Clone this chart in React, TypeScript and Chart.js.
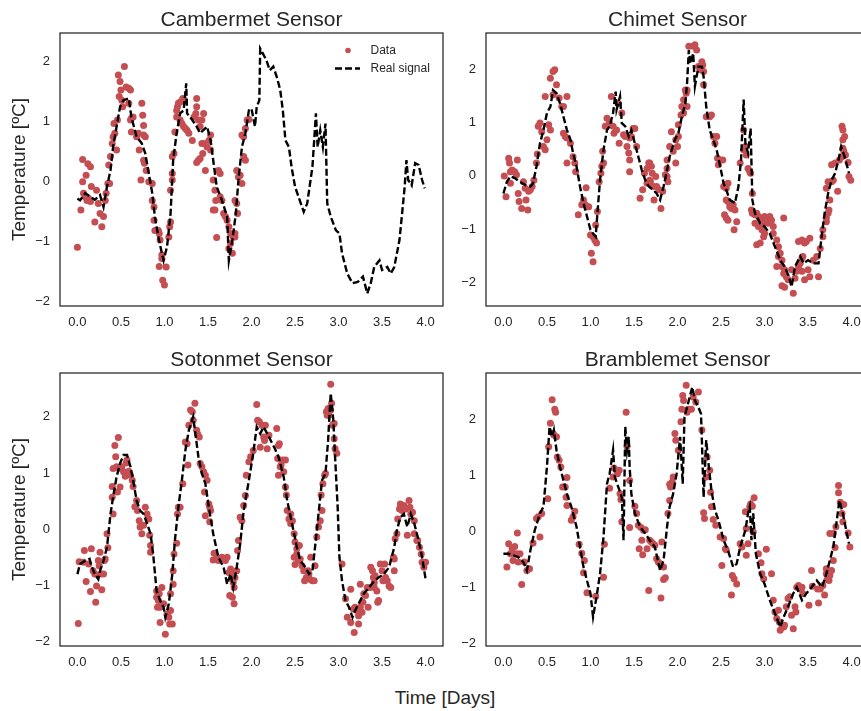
import React, { useEffect, useRef } from "react";
import { Chart, registerables } from "chart.js";

Chart.register(...registerables);

const FONT = '"Liberation Sans", Arial, Helvetica, sans-serif';
const TEXT = "#262626";
const RED = "#C44E52";

const xTicks = [0, 0.5, 1, 1.5, 2, 2.5, 3, 3.5, 4];
const yTicks = [-2, -1, 0, 1, 2];
const xMin = -0.2;
const xMax = 4.2;

type Pts = [number, number][];

// ---------- Cambermet ----------
const cambermetData: Pts = [
  [0.0, -1.09], [0.04, -0.47], [0.06, 0.37], [0.06, 0.0], [0.07, -0.19], [0.09, -0.25], [0.11, -0.31], [0.13, -0.28],
  [0.15, -0.33], [0.1, 0.11], [0.12, 0.3], [0.15, 0.25], [0.16, -0.08], [0.2, -0.67], [0.22, -0.14], [0.24, -0.36],
  [0.26, -0.53], [0.28, -0.75], [0.3, -0.58], [0.32, -0.31], [0.33, -0.19], [0.35, -0.03], [0.37, -0.03], [0.36, 0.28],
  [0.38, 0.42], [0.4, 0.64], [0.41, 0.75], [0.42, 0.97], [0.43, 0.81], [0.45, 0.53], [0.46, 1.03], [0.47, 1.78],
  [0.48, 1.42], [0.49, 1.67], [0.5, 1.53], [0.51, 1.36], [0.52, 1.25], [0.54, 1.92], [0.56, 1.58], [0.59, 1.56],
  [0.61, 1.53], [0.59, 1.31], [0.61, 1.03], [0.62, 1.06], [0.64, 1.08], [0.62, 0.83], [0.68, 0.75], [0.7, 0.81],
  [0.74, 1.31], [0.75, 1.11], [0.76, 0.94], [0.76, 0.78], [0.78, 0.75], [0.71, 0.53], [0.76, 0.36], [0.77, 0.31],
  [0.79, 0.19], [0.73, 0.03], [0.82, 0.0], [0.86, -0.03], [0.86, -0.31], [0.88, -0.42], [0.88, -0.64], [0.89, -0.81],
  [0.93, -0.81], [0.94, -0.86], [0.95, -0.97], [0.94, -1.41], [0.97, -1.22], [0.97, -1.28], [0.98, -1.64], [1.0, -1.72],
  [1.02, -1.42], [1.05, -0.92], [1.06, -0.75], [1.07, -0.67], [1.07, -0.14], [1.09, 0.03], [1.09, 0.14], [1.09, 0.42],
  [1.11, 0.47], [1.12, 0.83], [1.14, 1.08], [1.14, 1.19], [1.15, 1.25], [1.16, 1.31], [1.18, 1.33], [1.21, 1.39],
  [1.23, 1.36], [1.18, 1.03], [1.2, 0.97], [1.22, 0.92], [1.24, 0.89], [1.26, 0.86], [1.28, 0.81], [1.32, 0.69],
  [1.34, 1.08], [1.36, 1.14], [1.37, 1.25], [1.37, 1.39], [1.39, 1.03], [1.41, 0.92], [1.43, 1.03], [1.45, 1.14],
  [1.37, 0.32], [1.39, 0.36], [1.41, 0.39], [1.44, 0.47], [1.43, 0.64], [1.45, 0.64], [1.47, 0.19], [1.49, 0.58],
  [1.51, 0.69], [1.53, 0.53], [1.53, 0.78], [1.56, 0.03], [1.58, -0.14], [1.59, -0.31], [1.62, 0.19], [1.64, 0.14],
  [1.56, -0.47], [1.58, -0.47], [1.6, -0.93], [1.64, -0.25], [1.66, -0.31], [1.68, -0.53], [1.7, -0.58], [1.72, -0.64],
  [1.74, -0.75], [1.76, -0.86], [1.79, -0.92], [1.81, -0.86], [1.74, -1.11], [1.76, -1.03], [1.78, -1.19], [1.81, -0.92],
  [1.81, -0.31], [1.83, -0.36], [1.84, -0.53], [1.83, 0.19], [1.85, 0.08], [1.87, 0.11], [1.89, -0.03], [1.91, 0.42],
  [1.93, 0.36], [1.89, 0.78], [1.91, 0.75], [1.93, 0.89], [1.95, 1.03], [1.97, 1.04],
];
const cambermetSignal: Pts = [
  [0, -0.28], [0.03, -0.31], [0.09, -0.19], [0.15, -0.25], [0.2, -0.3], [0.26, -0.22], [0.3, -0.42], [0.34, -0.08],
  [0.38, 0.19], [0.41, 0.58], [0.45, 0.92], [0.49, 1.25], [0.53, 1.36], [0.59, 1.39], [0.62, 1.08], [0.68, 0.75],
  [0.74, 0.64], [0.78, 0.47], [0.82, 0.14], [0.86, -0.19], [0.89, -0.58], [0.93, -0.92], [0.97, -1.19], [0.99, -1.31],
  [1.03, -1.08], [1.07, -0.53], [1.1, 0.36], [1.14, 0.81], [1.18, 1.14], [1.22, 1.19], [1.25, 1.64], [1.26, 1.14],
  [1.32, 1.03], [1.37, 0.92], [1.41, 0.81], [1.49, 0.92], [1.53, 0.69], [1.56, 0.36], [1.6, -0.08], [1.66, -0.31],
  [1.72, -0.58], [1.74, -1.31], [1.78, -0.97], [1.82, -0.53], [1.85, 0.03], [1.89, 0.58], [1.93, 0.81], [1.97, 1.19],
  [2.0, 1.22], [2.04, 0.92], [2.06, 1.25], [2.09, 1.36], [2.1, 2.22], [2.13, 2.14], [2.17, 2.03], [2.21, 1.86],
  [2.25, 1.92], [2.29, 1.75], [2.33, 1.53], [2.36, 1.19], [2.39, 0.69], [2.43, 0.58], [2.46, 0.25], [2.5, -0.08],
  [2.54, -0.25], [2.6, -0.5], [2.64, -0.36], [2.7, 0.25], [2.72, 0.69], [2.74, 1.14], [2.76, 0.58], [2.79, 0.86],
  [2.82, 0.58], [2.85, 0.97], [2.87, -0.36], [2.91, -0.58], [2.97, -0.81], [3.01, -0.86], [3.04, -1.19], [3.1, -1.53],
  [3.16, -1.69], [3.22, -1.67], [3.28, -1.58], [3.33, -1.86], [3.37, -1.69], [3.41, -1.42], [3.47, -1.31], [3.5, -1.47],
  [3.56, -1.42], [3.6, -1.53], [3.64, -1.42], [3.7, -0.97], [3.73, -0.53], [3.76, -0.08], [3.78, 0.36], [3.8, 0.03],
  [3.84, -0.06], [3.88, 0.31], [3.92, 0.28], [3.96, 0.03], [3.99, -0.11],
];

// ---------- Chimet ----------
const chimetData: Pts = [
  [0.01, 0.0], [0.03, -0.39], [0.06, 0.33], [0.07, 0.24], [0.08, 0.08], [0.1, 0.11], [0.13, 0.08], [0.15, 0.02],
  [0.08, -0.14], [0.16, 0.3], [0.17, -0.33], [0.18, -0.48], [0.21, -0.61], [0.23, -0.11], [0.25, -0.23], [0.26, -0.45],
  [0.28, -0.64], [0.29, -0.29], [0.31, -0.26], [0.33, -0.2], [0.35, -0.08], [0.38, 0.24], [0.39, 0.41], [0.4, 0.93],
  [0.42, 0.99], [0.44, 0.83], [0.46, 0.55], [0.48, 0.49], [0.5, 0.68], [0.52, 0.96], [0.54, 0.86], [0.48, 1.49],
  [0.54, 1.83], [0.57, 1.96], [0.59, 1.99], [0.57, 1.52], [0.61, 1.71], [0.64, 1.46], [0.67, 1.3], [0.69, 1.3],
  [0.73, 1.49], [0.69, 0.8], [0.71, 0.74], [0.73, 0.71], [0.77, 0.61], [0.8, 0.36], [0.82, 0.24], [0.83, 0.08],
  [0.73, 0.24], [0.86, -0.73], [0.9, -0.54], [0.92, -0.45], [0.94, -0.54], [0.95, -0.22], [0.96, -0.58], [0.98, -0.58],
  [1.0, -1.11], [1.01, -1.45], [1.03, -1.61], [1.03, -1.14], [1.05, -1.2], [1.07, -1.26], [1.06, -0.92], [1.08, -0.67],
  [1.1, -0.11], [1.12, 0.05], [1.13, 0.18], [1.15, 0.24], [1.14, 0.46], [1.17, 0.93], [1.19, 1.08], [1.21, 0.96],
  [1.22, 0.99], [1.24, 1.49], [1.26, 0.93], [1.27, 0.8], [1.3, 0.86], [1.32, 1.36], [1.33, 0.61], [1.36, 1.18],
  [1.38, 0.77], [1.4, 0.74], [1.42, 0.55], [1.44, 0.43], [1.45, 0.3], [1.45, 0.08], [1.45, 0.71], [1.47, 0.74],
  [1.49, 0.89], [1.51, 0.89], [1.53, 0.55], [1.57, -0.42], [1.6, -0.26], [1.62, 0.05], [1.65, 0.14], [1.67, 0.24],
  [1.68, 0.24], [1.7, 0.18], [1.71, 0.05], [1.65, -0.14], [1.68, -0.08], [1.69, -0.11], [1.72, -0.2], [1.73, -0.45],
  [1.75, -0.01], [1.76, -0.2], [1.79, -0.26], [1.81, -0.61], [1.83, -0.29], [1.86, 0.02], [1.88, 0.14], [1.88, -0.01],
  [1.89, -0.11], [1.88, 0.3], [1.91, 0.55], [1.93, 0.83], [1.95, 0.46], [1.98, 0.24], [1.98, 0.68], [2.0, 0.55],
  [2.01, 0.74], [2.01, 0.96], [2.04, 1.14], [2.05, 1.3], [2.07, 1.18], [2.07, 1.43], [2.09, 1.61], [2.1, 1.55],
  [2.11, 1.61], [2.11, 1.3], [2.13, 2.43], [2.18, 2.43], [2.2, 2.46], [2.22, 2.36], [2.24, 2.05], [2.26, 1.99],
  [2.28, 2.14], [2.29, 2.08], [2.3, 1.96], [2.3, 1.71], [2.33, 1.11], [2.37, 1.11], [2.39, 1.14], [2.41, 0.74],
  [2.43, 0.61], [2.45, 0.74], [2.46, 0.33], [2.47, 0.21], [2.49, 0.3], [2.52, 0.3], [2.55, -0.17], [2.56, -0.23],
  [2.58, -0.14], [2.53, -0.2], [2.56, -0.45], [2.58, -0.48], [2.6, -0.58], [2.62, -0.61], [2.64, -0.54], [2.66, -0.64],
  [2.68, -0.86], [2.54, -0.73], [2.56, -0.79], [2.58, -0.83], [2.65, -1.01], [2.72, 0.24], [2.76, 0.86], [2.76, 0.49],
  [2.78, 0.55], [2.79, 0.39], [2.81, 0.14], [2.83, 0.08], [2.84, 0.05], [2.86, -0.33], [2.85, -0.64], [2.86, -0.7],
  [2.89, -0.73], [2.91, -0.7], [2.93, -0.76], [2.95, -0.79], [2.97, -0.83], [2.99, -0.89], [3.0, -0.76], [3.02, -0.86],
  [3.04, -0.89], [3.06, -0.76], [3.08, -0.83], [3.1, -0.95], [3.22, -0.79], [2.89, -0.89], [2.93, -0.95], [2.97, -1.01],
  [3.0, -1.08], [2.99, -1.14], [2.91, -1.29], [2.95, -1.26], [3.1, -1.08], [3.14, -1.2], [3.16, -1.33], [3.18, -1.45],
  [3.2, -1.58], [3.14, -1.7], [3.16, -1.51], [3.2, -1.7], [3.22, -1.83], [3.23, -1.76], [3.25, -1.89], [3.2, -2.06],
  [3.23, -2.09], [3.27, -1.95], [3.33, -2.2], [3.31, -1.76], [3.35, -1.92], [3.37, -1.79], [3.39, -1.7], [3.41, -1.64],
  [3.43, -1.79], [3.46, -1.95], [3.5, -1.76], [3.52, -1.89], [3.62, -1.89], [3.39, -1.23], [3.43, -1.2], [3.46, -1.26],
  [3.48, -1.23], [3.52, -1.17], [3.56, -1.58], [3.6, -1.51], [3.43, -1.54], [3.44, -1.51], [3.64, -1.36], [3.67, -1.14],
  [3.67, -1.01], [3.71, -0.86], [3.71, -0.79], [3.73, -0.7], [3.74, -0.64], [3.75, -0.45], [3.71, -0.23], [3.73, -0.11],
  [3.77, -0.11], [3.79, -0.08], [3.77, 0.21], [3.81, 0.24], [3.84, -0.29], [3.86, 0.3], [3.89, 0.36], [3.9, 0.52],
  [3.9, 0.68], [3.89, 0.93], [3.9, 0.86], [3.92, 0.74], [3.91, 0.46], [3.93, 0.39], [3.96, 0.25], [3.97, -0.01],
  [3.99, -0.08],
];
const chimetSignal: Pts = [
  [0, -0.33], [0.04, -0.11], [0.08, -0.01], [0.13, -0.04], [0.19, -0.11], [0.25, -0.17], [0.31, -0.2], [0.34, -0.14],
  [0.38, 0.18], [0.42, 0.61], [0.46, 0.86], [0.5, 1.18], [0.54, 1.3], [0.57, 1.61], [0.61, 1.55], [0.65, 1.36],
  [0.69, 1.11], [0.73, 0.86], [0.77, 0.68], [0.8, 0.43], [0.84, 0.18], [0.88, -0.2], [0.92, -0.51], [0.96, -0.76],
  [1.0, -1.01], [1.03, -1.08], [1.06, -1.14], [1.08, -0.7], [1.11, -0.08], [1.15, 0.49], [1.19, 0.86], [1.22, 0.93],
  [1.26, 1.18], [1.29, 1.58], [1.3, 1.24], [1.34, 1.49], [1.36, 0.99], [1.4, 0.93], [1.44, 0.74], [1.47, 0.86],
  [1.51, 0.61], [1.55, 0.36], [1.59, 0.11], [1.63, -0.08], [1.67, -0.2], [1.72, -0.26], [1.76, -0.33], [1.8, -0.45],
  [1.84, -0.2], [1.88, 0.11], [1.91, 0.36], [1.97, 0.68], [2.01, 0.8], [2.05, 1.11], [2.09, 1.36], [2.11, 1.74],
  [2.13, 2.36], [2.15, 2.11], [2.18, 2.3], [2.2, 1.68], [2.24, 2.05], [2.28, 2.05], [2.3, 1.86], [2.33, 1.3],
  [2.37, 0.86], [2.41, 0.68], [2.45, 0.49], [2.49, 0.18], [2.53, -0.14], [2.56, -0.26], [2.6, -0.45], [2.66, -0.51],
  [2.7, -0.2], [2.73, 0.3], [2.76, 1.43], [2.78, 0.61], [2.81, 0.43], [2.84, 0.89], [2.86, -0.45], [2.89, -0.7],
  [2.95, -0.89], [3.0, -0.95], [3.06, -1.08], [3.12, -1.33], [3.18, -1.58], [3.23, -1.7], [3.28, -1.89], [3.31, -2.08],
  [3.35, -1.7], [3.41, -1.51], [3.45, -1.64], [3.5, -1.58], [3.56, -1.64], [3.62, -1.64], [3.66, -1.08], [3.69, -0.7],
  [3.73, -0.33], [3.77, -0.08], [3.81, 0.05], [3.85, 0.3], [3.88, 0.55], [3.92, 0.36], [3.97, 0.05],
];

// ---------- Sotonmet ----------
const sotonmetData: Pts = [
  [0.01, -1.68], [0.02, -0.58], [0.07, -0.59], [0.08, -0.38], [0.1, -0.93], [0.13, -0.62], [0.15, -1.11], [0.16, -0.35],
  [0.18, -0.74], [0.2, -0.8], [0.21, -1.3], [0.22, -1.01], [0.24, -0.56], [0.25, -0.65], [0.26, -0.41], [0.27, -0.8],
  [0.28, -1.08], [0.3, -0.8], [0.31, -0.56], [0.32, -0.53], [0.34, -0.08], [0.35, -0.33], [0.4, 0.76], [0.4, 0.57],
  [0.41, 0.27], [0.41, 1.08], [0.43, 1.49], [0.44, 1.29], [0.45, 1.11], [0.46, 0.66], [0.47, 1.63], [0.48, 1.08],
  [0.49, 0.75], [0.51, 1.11], [0.53, 1.02], [0.55, 0.94], [0.56, 1.18], [0.57, 1.23], [0.59, 1.03], [0.61, 0.96],
  [0.63, 0.87], [0.64, 0.76], [0.66, 0.4], [0.68, 0.51], [0.69, 0.33], [0.71, 0.15], [0.72, 0.04], [0.74, -0.08],
  [0.76, 0.07], [0.78, 0.39], [0.8, 0.27], [0.82, 0.18], [0.83, -0.11], [0.84, -0.29], [0.84, -0.41], [0.91, -1.1],
  [0.91, -1.21], [0.92, -1.39], [0.93, -1.27], [0.94, -1.15], [0.95, -1.39], [0.97, -1.04], [0.95, -1.66], [0.99, -1.33],
  [1.01, -1.87], [1.03, -1.51], [1.05, -1.57], [1.06, -1.69], [1.07, -1.45], [1.07, -1.15], [1.09, -1.69], [1.1, -0.98],
  [1.1, -0.74], [1.11, -0.44], [1.14, -0.25], [1.15, 0.27], [1.16, 0.39], [1.18, 0.39], [1.21, 0.81], [1.24, 1.55],
  [1.26, 1.52], [1.27, 1.14], [1.28, 1.85], [1.3, 2.12], [1.32, 2.09], [1.33, 1.94], [1.35, 2.24], [1.37, 1.76],
  [1.38, 1.7], [1.4, 1.64], [1.41, 1.17], [1.43, 1.11], [1.45, 1.02], [1.47, 0.96], [1.46, 0.66], [1.49, 0.87],
  [1.51, 0.45], [1.52, 0.39], [1.53, 0.33], [1.47, 0.24], [1.52, 0.13], [1.56, -0.55], [1.57, -0.43], [1.6, -0.53],
  [1.62, -0.56], [1.64, -0.53], [1.66, -0.5], [1.7, -0.56], [1.72, -0.5], [1.74, -0.77], [1.76, -0.71], [1.78, -0.86],
  [1.79, -0.95], [1.79, -0.8], [1.8, -1.04], [1.75, -1.18], [1.78, -1.21], [1.8, -1.33], [1.81, -0.86], [1.83, -0.74],
  [1.84, -0.38], [1.85, -0.2], [1.87, 0.21], [1.89, 0.15], [1.91, 0.42], [1.93, 0.6], [1.94, 0.96], [1.97, 1.2],
  [1.99, 1.29], [2.02, 1.4], [2.06, 2.22], [2.07, 1.94], [2.09, 1.91], [2.1, 1.46], [2.12, 1.85], [2.14, 1.64],
  [2.15, 1.58], [2.16, 1.85], [2.18, 1.43], [2.2, 1.67], [2.29, 1.79], [2.31, 1.49], [2.32, 1.52], [2.3, 1.26],
  [2.33, 1.11], [2.34, 1.14], [2.36, 1.23], [2.39, 1.23], [2.31, 0.96], [2.37, 1.02], [2.39, 0.75], [2.4, 0.61],
  [2.41, 0.33], [2.43, 0.18], [2.45, 0.1], [2.45, 0.27], [2.47, 0.15], [2.49, -0.08], [2.5, -0.23], [2.52, -0.35],
  [2.55, -0.29], [2.49, -0.5], [2.5, -0.63], [2.52, -0.44], [2.54, -0.56], [2.56, -0.53], [2.58, -0.65], [2.6, -0.74],
  [2.61, -0.92], [2.63, -0.86], [2.65, -0.74], [2.66, -0.8], [2.67, -0.89], [2.68, -0.5], [2.7, -0.92], [2.72, -0.92],
  [2.73, -0.65], [2.75, -0.14], [2.77, 0.04], [2.79, 0.15], [2.81, 0.33], [2.8, 0.61], [2.82, 0.81], [2.84, 0.96],
  [2.85, 0.99], [2.86, 2.09], [2.87, 2.03], [2.88, 2.15], [2.89, 2.03], [2.91, 2.12], [2.92, 2.24], [2.93, 1.85],
  [2.95, 1.61], [2.95, 1.88], [2.96, 1.43], [2.98, 1.35], [2.91, 2.58], [3.04, -0.62], [3.08, -1.24], [3.1, -1.57],
  [3.14, -1.07], [3.14, -1.66], [3.17, -1.42], [3.18, -1.84], [3.19, -1.39], [3.21, -1.45], [3.23, -1.54], [3.23, -1.69],
  [3.25, -1.39], [3.27, -1.48], [3.28, -1.3], [3.29, -1.15], [3.25, -0.98], [3.31, -1.18], [3.33, -1.04], [3.34, -1.39],
  [3.36, -1.04], [3.37, -0.68], [3.39, -0.74], [3.4, -0.86], [3.41, -0.95], [3.41, -1.04], [3.42, -0.83], [3.44, -1.1],
  [3.45, -1.3], [3.46, -1.27], [3.48, -0.62], [3.5, -0.74], [3.51, -0.92], [3.53, -0.62], [3.54, -0.86], [3.56, -0.92],
  [3.58, -1.01], [3.6, -1.04], [3.63, -0.5], [3.64, -0.74], [3.64, -0.53], [3.65, -0.17], [3.67, -0.08], [3.68, 0.18],
  [3.7, 0.36], [3.71, 0.45], [3.73, 0.33], [3.75, 0.42], [3.77, 0.36], [3.79, -0.11], [3.81, 0.51], [3.82, 0.39],
  [3.83, 0.27], [3.85, 0.3], [3.87, -0.08], [3.87, 0.15], [3.9, -0.2], [3.91, -0.2], [3.93, -0.32], [3.95, -0.44],
  [3.96, -0.59], [3.98, -0.68], [4.0, -0.59],
];
const sotonmetSignal: Pts = [
  [0, -0.8], [0.03, -0.62], [0.09, -0.56], [0.14, -0.53], [0.16, -0.65], [0.2, -0.8], [0.24, -0.89], [0.26, -0.74],
  [0.3, -0.56], [0.34, -0.32], [0.38, 0.27], [0.41, 0.57], [0.45, 0.93], [0.49, 1.17], [0.53, 1.32], [0.57, 1.32],
  [0.61, 1.11], [0.64, 0.87], [0.68, 0.51], [0.72, 0.33], [0.76, 0.27], [0.8, 0.1], [0.84, -0.08], [0.87, -0.44],
  [0.91, -1.1], [0.95, -1.27], [0.99, -1.39], [1.01, -1.57], [1.05, -1.33], [1.09, -0.8], [1.12, -0.2], [1.16, 0.39],
  [1.2, 0.87], [1.24, 1.4], [1.28, 1.76], [1.33, 2.0], [1.35, 1.76], [1.39, 1.29], [1.43, 0.99], [1.47, 0.81],
  [1.51, 0.39], [1.56, -0.08], [1.62, -0.5], [1.68, -0.68], [1.72, -0.98], [1.76, -0.8], [1.79, -1.04], [1.83, -0.68],
  [1.87, -0.26], [1.91, 0.33], [1.97, 0.87], [2.02, 1.35], [2.06, 1.82], [2.1, 1.7], [2.14, 1.82], [2.18, 1.7],
  [2.22, 1.58], [2.26, 1.46], [2.31, 1.29], [2.37, 0.93], [2.41, 0.51], [2.45, 0.21], [2.49, -0.08], [2.52, -0.32],
  [2.56, -0.56], [2.62, -0.68], [2.66, -0.8], [2.7, -0.74], [2.73, -0.32], [2.77, 0.27], [2.81, 0.87], [2.85, 0.99],
  [2.88, 1.58], [2.91, 2.42], [2.94, 1.94], [2.96, 1.29], [2.99, 0.39], [3.01, -0.5], [3.04, -0.92], [3.08, -1.27],
  [3.12, -1.39], [3.16, -1.57], [3.19, -1.45], [3.23, -1.33], [3.29, -1.15], [3.35, -1.04], [3.41, -0.92], [3.46, -0.86],
  [3.52, -0.8], [3.58, -0.68], [3.64, -0.32], [3.67, -0.02], [3.71, 0.21], [3.75, 0.27], [3.79, 0.04], [3.83, 0.27],
  [3.87, 0.1], [3.92, -0.2], [3.96, -0.5], [4.0, -0.89],
];

// ---------- Bramblemet ----------
const bramblemetData: Pts = [
  [0.04, -0.64], [0.06, -0.22], [0.08, -0.4], [0.1, -0.31], [0.11, -0.52], [0.13, -0.27], [0.15, -0.4], [0.16, -0.03],
  [0.17, -0.55], [0.19, -0.4], [0.21, -0.95], [0.24, -0.55], [0.27, -0.7], [0.3, -0.67], [0.34, -0.21], [0.38, 0.23],
  [0.4, 0.26], [0.42, -0.1], [0.44, 0.32], [0.51, 0.58], [0.52, 1.51], [0.54, 1.93], [0.56, 2.35], [0.57, 1.75],
  [0.58, 1.72], [0.59, 2.18], [0.6, 2.13], [0.61, 1.69], [0.62, 1.33], [0.64, 1.27], [0.66, 1.15], [0.68, 0.79],
  [0.71, 0.79], [0.72, 0.61], [0.73, 0.96], [0.73, 0.46], [0.78, 0.2], [0.8, 0.26], [0.82, 0.36], [0.87, -0.23],
  [0.9, -0.39], [0.93, -0.52], [0.92, -0.74], [0.96, -1.1], [1.06, -1.16], [1.15, -0.82], [1.16, -0.23], [1.22, 0.77],
  [1.26, 0.97], [1.27, 1.13], [1.31, 1.03], [1.33, 1.09], [1.34, 0.67], [1.35, 0.57], [1.36, 0.17], [1.41, 2.13],
  [1.42, 1.52], [1.45, 0.91], [1.45, 0.07], [1.51, 0.45], [1.53, 0.32], [1.55, 0.11], [1.56, -0.31], [1.58, 0.07],
  [1.59, -0.16], [1.6, -0.42], [1.61, 0.02], [1.63, 0.03], [1.65, -0.31], [1.67, -1.06], [1.68, -0.16], [1.7, -0.19],
  [1.72, -0.22], [1.74, -0.25], [1.76, -0.49], [1.78, -0.55], [1.8, -0.58], [1.81, -1.19], [1.82, -0.19], [1.84, -0.64],
  [1.84, -0.86], [1.86, -0.83], [1.89, 0.32], [1.91, 0.84], [1.92, 0.79], [1.91, 0.55], [1.94, 0.88], [1.95, 0.97],
  [1.97, 1.75], [1.98, 1.63], [2.01, 1.45], [2.04, 1.96], [2.05, 2.18], [2.06, 2.43], [2.07, 2.34], [2.1, 2.61],
  [2.11, 2.13], [2.12, 2.18], [2.16, 2.18], [2.18, 2.4], [2.21, 2.31], [2.24, 2.49], [2.28, 1.81], [2.3, 0.33],
  [2.31, 0.23], [2.33, 0.97], [2.34, 1.33], [2.37, 1.09], [2.38, 0.7], [2.39, 0.44], [2.41, 0.21], [2.44, 0.11],
  [2.49, -0.1], [2.53, -0.13], [2.55, -0.31], [2.56, -0.33], [2.51, -0.61], [2.62, -1.14], [2.63, -0.79], [2.65, -0.85],
  [2.68, -0.94], [2.72, -0.22], [2.74, -0.28], [2.78, 0.35], [2.79, 0.05], [2.79, -0.43], [2.81, -0.22], [2.83, 0.44],
  [2.84, 0.49], [2.86, 0.45], [2.88, 0.6], [2.87, -0.01], [2.93, -0.4], [2.96, -0.56], [2.97, -0.76], [2.99, -0.85],
  [3.02, -0.32], [3.08, -0.76], [3.1, -1.23], [3.12, -1.44], [3.14, -1.56], [3.16, -1.41], [3.17, -1.62], [3.18, -1.77],
  [3.2, -1.71], [3.22, -1.71], [3.23, -1.68], [3.25, -1.35], [3.27, -1.2], [3.29, -1.17], [3.31, -1.5], [3.33, -1.74],
  [3.35, -1.35], [3.36, -1.44], [3.37, -1.0], [3.39, -0.97], [3.41, -1.03], [3.43, -1.0], [3.44, -1.11], [3.51, -1.32],
  [3.54, -0.7], [3.55, -0.98], [3.61, -1.03], [3.62, -1.28], [3.64, -1.03], [3.67, -0.97], [3.69, -1.14], [3.71, -0.67],
  [3.71, -0.76], [3.72, -0.86], [3.74, -0.88], [3.75, -0.79], [3.77, -0.7], [3.79, -0.52], [3.81, -0.29], [3.75, -0.04],
  [3.79, -0.04], [3.82, 0.08], [3.85, 0.82], [3.85, 0.69], [3.87, 0.52], [3.89, 0.32], [3.9, 0.17], [3.91, 0.48],
  [3.96, -0.03], [3.98, -0.28],
];
const bramblemetSignal: Pts = [
  [0, -0.4], [0.06, -0.4], [0.11, -0.43], [0.17, -0.46], [0.23, -0.55], [0.27, -0.7], [0.31, -0.34], [0.36, 0.02],
  [0.42, 0.32], [0.46, 0.44], [0.5, 1.15], [0.53, 1.87], [0.56, 1.69], [0.58, 1.81], [0.61, 1.45], [0.65, 1.15],
  [0.69, 0.91], [0.73, 0.67], [0.78, 0.44], [0.84, 0.08], [0.88, -0.28], [0.92, -0.64], [0.96, -0.88], [1.0, -1.11],
  [1.03, -1.53], [1.07, -1.17], [1.11, -0.76], [1.15, -0.1], [1.19, 0.85], [1.22, 1.03], [1.26, 1.45], [1.28, 0.97],
  [1.32, 0.79], [1.36, 0.61], [1.38, -0.16], [1.4, 1.87], [1.42, 1.45], [1.44, 1.69], [1.45, 1.15], [1.47, 0.67],
  [1.51, 0.32], [1.57, 0.08], [1.63, -0.04], [1.68, -0.16], [1.74, -0.28], [1.8, -0.7], [1.84, -0.52], [1.88, 0.08],
  [1.91, 0.44], [1.95, 0.67], [1.99, 1.03], [2.03, 1.69], [2.06, 0.85], [2.08, 2.04], [2.11, 2.22], [2.14, 2.4],
  [2.17, 2.58], [2.2, 2.34], [2.24, 2.22], [2.27, 2.1], [2.28, 1.63], [2.3, 0.61], [2.33, 1.63], [2.36, 1.15],
  [2.39, 0.73], [2.43, 0.38], [2.47, 0.2], [2.53, -0.16], [2.58, -0.34], [2.64, -0.64], [2.68, -0.58], [2.72, -0.28],
  [2.78, 0.02], [2.81, 0.32], [2.83, 0.44], [2.85, -0.16], [2.87, 0.32], [2.9, -0.4], [2.95, -0.76], [3.0, -0.94],
  [3.06, -1.23], [3.12, -1.47], [3.18, -1.71], [3.22, -1.53], [3.27, -1.35], [3.33, -1.11], [3.37, -1.0], [3.43, -1.23],
  [3.48, -1.11], [3.54, -1.0], [3.6, -0.88], [3.66, -1.0], [3.71, -0.76], [3.75, -0.52], [3.79, -0.28], [3.82, 0.08],
  [3.86, 0.55], [3.9, 0.32], [3.93, 0.08], [3.97, -0.22],
];

interface PanelSpec {
  title: string;
  data: Pts;
  signal: Pts;
  yMin: number;
  yMax: number;
  left: number;
  top: number;
  yAxisWidth: number;
  padRight: number;
  showYLabel: boolean;
  showLegend: boolean;
}

const panels: PanelSpec[] = [
  { title: "Cambermet Sensor", data: cambermetData, signal: cambermetSignal, yMin: -2.07, yMax: 2.48, left: 0, top: 0, yAxisWidth: 60, padRight: 7, showYLabel: true, showLegend: true },
  { title: "Chimet Sensor", data: chimetData, signal: chimetSignal, yMin: -2.44, yMax: 2.68, left: 430, top: 0, yAxisWidth: 56, padRight: 11, showYLabel: false, showLegend: false },
  { title: "Sotonmet Sensor", data: sotonmetData, signal: sotonmetSignal, yMin: -2.08, yMax: 2.78, left: 0, top: 340, yAxisWidth: 60, padRight: 7, showYLabel: true, showLegend: false },
  { title: "Bramblemet Sensor", data: bramblemetData, signal: bramblemetSignal, yMin: -2.05, yMax: 2.83, left: 430, top: 340, yAxisWidth: 56, padRight: 11, showYLabel: false, showLegend: false },
];

const W = 450;
const H = 340;
const DASH = [7, 3];

function Panel({ spec }: { spec: PanelSpec }) {
  const ref = useRef<HTMLCanvasElement>(null);
  useEffect(() => {
    if (!ref.current) return;
    const deco = {
      id: "deco",
      afterDraw(chart: any) {
        const ctx = chart.ctx as CanvasRenderingContext2D;
        const a = chart.chartArea;
        ctx.save();
        ctx.strokeStyle = TEXT;
        ctx.lineWidth = 1.25;
        ctx.setLineDash([]);
        ctx.strokeRect(a.left, a.top, a.right - a.left, a.bottom - a.top);
        ctx.fillStyle = TEXT;
        ctx.font = `21px ${FONT}`;
        ctx.textAlign = "center";
        ctx.textBaseline = "alphabetic";
        ctx.fillText(spec.title, (a.left + a.right) / 2, 25.5);
        if (spec.showYLabel) {
          ctx.save();
          ctx.translate(20, (a.top + a.bottom) / 2);
          ctx.rotate(-Math.PI / 2);
          ctx.font = `19px ${FONT}`;
          ctx.textBaseline = "middle";
          ctx.textAlign = "center";
          ctx.fillText("Temperature [ºC]", 0, 0);
          ctx.restore();
        }
        if (spec.showLegend) {
          ctx.fillStyle = RED;
          ctx.beginPath();
          ctx.arc(348, 50.5, 2.8, 0, Math.PI * 2);
          ctx.fill();
          ctx.strokeStyle = "#000";
          ctx.lineWidth = 2.4;
          ctx.setLineDash(DASH);
          ctx.beginPath();
          ctx.moveTo(335, 68.5);
          ctx.lineTo(360, 68.5);
          ctx.stroke();
          ctx.setLineDash([]);
          ctx.fillStyle = TEXT;
          ctx.font = `12px ${FONT}`;
          ctx.textAlign = "left";
          ctx.textBaseline = "middle";
          ctx.fillText("Data", 370.5, 50.5);
          ctx.fillText("Real signal", 370.5, 68.5);
        }
        ctx.restore();
      },
    };
    const chart = new Chart(ref.current, {
      type: "scatter",
      data: {
        datasets: [
          {
            label: "Real signal",
            data: spec.signal.map(([x, y]) => ({ x, y })),
            showLine: true,
            borderColor: "#000000",
            backgroundColor: "#000000",
            borderWidth: 2.4,
            borderDash: DASH,
            pointRadius: 0,
            pointHoverRadius: 0,
            tension: 0,
            order: 0,
          } as any,
          {
            label: "Data",
            data: spec.data.map(([x, y]) => ({ x, y })),
            backgroundColor: RED,
            borderColor: RED,
            borderWidth: 0,
            pointRadius: 3.5,
            pointHoverRadius: 3.5,
            order: 1,
          } as any,
        ],
      },
      options: {
        animation: false,
        responsive: false,
        devicePixelRatio: 1,
        layout: { padding: { top: 33, right: spec.padRight, bottom: 0, left: 0 } },
        plugins: { legend: { display: false }, tooltip: { enabled: false }, title: { display: false } },
        events: [],
        scales: {
          x: {
            type: "linear",
            min: xMin,
            max: xMax,
            grid: { display: false, drawTicks: false },
            border: { display: false },
            afterBuildTicks: (s: any) => {
              s.ticks = xTicks.map((v) => ({ value: v }));
            },
            afterFit: (s: any) => {
              s.height = 34;
            },
            ticks: {
              padding: 9,
              color: TEXT,
              font: { family: FONT, size: 13 },
              maxRotation: 0,
              autoSkip: false,
              callback: (v: any) => Number(v).toFixed(1),
            },
          },
          y: {
            type: "linear",
            min: spec.yMin,
            max: spec.yMax,
            grid: { display: false, drawTicks: false },
            border: { display: false },
            afterBuildTicks: (s: any) => {
              s.ticks = yTicks.map((v) => ({ value: v }));
            },
            afterFit: (s: any) => {
              s.width = spec.yAxisWidth;
            },
            ticks: {
              padding: 10,
              color: TEXT,
              font: { family: FONT, size: 13 },
              autoSkip: false,
              callback: (v: any) => {
                const n = Number(v);
                return n < 0 ? "\u2212" + Math.abs(n) : String(n);
              },
            },
          },
        },
      } as any,
      plugins: [deco],
    });
    return () => chart.destroy();
  }, [spec]);
  return (
    <canvas
      ref={ref}
      width={W}
      height={H}
      style={{ position: "absolute", left: spec.left, top: spec.top, width: W, height: H }}
    />
  );
}

export default function App() {
  return (
    <div
      style={{
        position: "absolute",
        left: 0,
        top: 0,
        width: 861,
        height: 711,
        overflow: "hidden",
        background: "#ffffff",
      }}
    >
      {panels.map((p) => (
        <Panel key={p.title} spec={p} />
      ))}
      <div
        style={{
          position: "absolute",
          left: 345,
          width: 200,
          top: 686,
          textAlign: "center",
          fontFamily: FONT,
          fontSize: 19,
          lineHeight: "24px",
          color: TEXT,
        }}
      >
        Time [Days]
      </div>
    </div>
  );
}
